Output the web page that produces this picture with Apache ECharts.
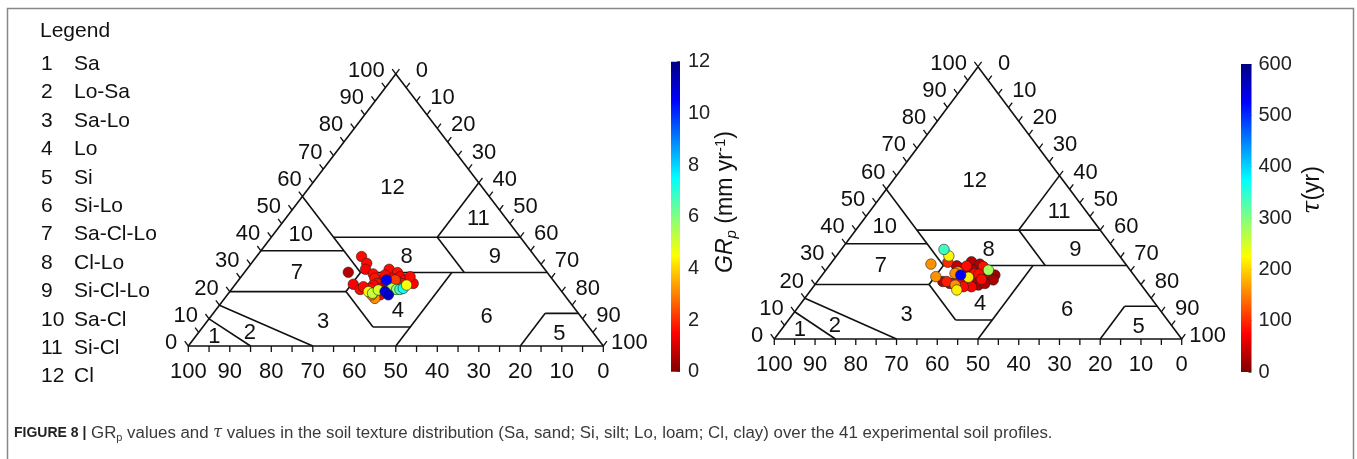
<!DOCTYPE html>
<html>
<head>
<meta charset="utf-8">
<script src="https://cdn.jsdelivr.net/npm/echarts@6/dist/echarts.min.js"></script>
<style>
  html, body { margin: 0; padding: 0; background: #fff; }
  #chart { width: 1357px; height: 459px; }
</style>
</head>
<body>
<div id="chart"></div>
<script>
// texture classes (legend)
const classNo = [1, 2, 3, 4, 5, 6, 7, 8, 9, 10, 11, 12];
const classNames = ['Sa', 'Lo-Sa', 'Sa-Lo', 'Lo', 'Si', 'Si-Lo', 'Sa-Cl-Lo', 'Cl-Lo', 'Si-Cl-Lo', 'Sa-Cl', 'Si-Cl', 'Cl'];

// class boundaries, [sand1, clay1, sand2, clay2] in %
const outline = [[100, 0, 0, 0], [0, 0, 0, 100], [0, 100, 100, 0]];
const boundaries = [
  [90, 10, 85, 0], [85, 15, 70, 0], [80, 20, 52, 20], [52, 20, 52, 7], [52, 7, 43, 7],
  [50, 0, 23, 27], [52, 20, 45, 27], [45, 27, 0, 27], [65, 35, 45, 35], [45, 55, 45, 27],
  [45, 40, 0, 40], [20, 40, 20, 27], [20, 40, 0, 60], [20, 0, 8, 12], [8, 12, 0, 12]
];
// where each class number sits, [sand, clay]
const classLabelAt = [
  [92, 3.4], [82.8, 4.7], [63, 9], [43, 13], [8.4, 4.4], [22.7, 10.8],
  [60.5, 26.7], [31, 32.8], [9.8, 32.6], [52.4, 41], [6.8, 46.6], [21.8, 58]
];

// tick labels
const sandTicks = [100, 90, 80, 70, 60, 50, 40, 30, 20, 10, 0];
const clayTicks = [0, 10, 20, 30, 40, 50, 60, 70, 80, 90, 100];
const siltTicks = [0, 10, 20, 30, 40, 50, 60, 70, 80, 90, 100];
const grpTicks = [0, 2, 4, 6, 8, 10, 12];
const tauTicks = [0, 100, 200, 300, 400, 500, 600];

// left panel: sand %, clay %, GRp (mm/yr)
const grpSand = [41.8, 41.8, 43.2, 47.9, 48.9, 48.2, 42.2, 37.5, 36.1, 36.2, 35.6, 34.3, 33.8, 41.3,
  42.6, 38.6, 37.1, 39.6, 43.0, 44.2, 45.6, 42.1, 44.4, 46.9, 41.4, 41.0, 38.5, 38.0, 46.3, 46.4,
  46.6, 45.9, 43.9, 40.4, 39.4, 38.6, 37.6, 36.2, 40.1, 42.6, 42.4];
const grpClay = [32.9, 30.4, 28.2, 27.1, 22.7, 20.8, 26.5, 28.2, 27.0, 25.5, 24.3, 23.0, 25.5, 24.3,
  24.9, 24.9, 23.0, 26.1, 23.0, 22.4, 21.2, 21.8, 18.8, 21.8, 20.0, 22.4, 23.0, 24.3, 17.5, 18.8,
  20.0, 19.4, 20.6, 21.2, 20.8, 20.8, 21.2, 22.4, 24.3, 20.0, 18.8];
const grpValue = [1.6, 1.6, 1.5, 0.6, 1.5, 1.6, 1.6, 1.6, 1.7, 1.5, 1.6, 1.5, 1.6, 1.6,
  1.7, 1.5, 1.6, 1.6, 1.6, 1.5, 1.6, 1.5, 1.6, 1.6, 0.7, 0.6, 2.4, 2.2, 3.2, 3.0,
  4.4, 5.2, 5.0, 5.3, 5.9, 6.8, 7.3, 4.6, 10.6, 10.8, 11.2];

// right panel: sand %, clay %, tau (yr)
const tauSand = [41.8, 37.4, 35.8, 34.1, 36.3, 38.7, 40.4, 43.5, 42.5, 40.2, 46.7, 35.9, 41.3, 40.0,
  35.4, 38.1, 39.4, 48.1, 41.8, 43.3, 45.9, 47.1, 35.4, 38.7, 43.0, 39.4, 42.0, 43.9, 44.0,
  37.9, 38.2, 47.8, 48.9, 42.6, 45.7, 43.6, 41.0, 46.2, 41.9, 34.8, 41.9, 42.5];
const tauClay = [26.8, 28.4, 27.5, 23.5, 22.3, 25.3, 24.7, 21.1, 19.8, 21.1, 20.4, 23.9, 26.0, 19.8,
  21.7, 20.4, 22.7, 21.1, 26.8, 28.2, 20.4, 21.1, 26.6, 24.1, 20.4, 26.8, 19.2, 21.9, 19.2,
  23.8, 21.9, 27.5, 22.9, 24.7, 19.8, 24.1, 22.7, 18.0, 30.5, 25.3, 32.9, 23.5];
const tauValue = [40, 30, 30, 20, 25, 30, 30, 30, 30, 30, 35, 30, 30, 30,
  25, 30, 30, 30, 40, 100, 90, 90, 85, 80, 70, 80, 75, 80, 80,
  80, 80, 160, 160, 160, 160, 160, 215, 215, 220, 280, 340, 530];

const jet = ['#800000', '#ff0000', '#ff8000', '#ffff00', '#80ff80', '#00ffff', '#0080ff', '#0000ff', '#000080'];
const FONT = 'Liberation Sans, Arial, sans-serif';

// sand/clay -> x/y of the cartesian grid (x: 0 at sand corner, y: clay)
function tern(sand, clay) {
  return [100 - sand - clay / 2, clay];
}

const segData = outline.concat(boundaries).map(function (s) {
  return tern(s[0], s[1]).concat(tern(s[2], s[3]));
});

// ticks every 5 %, labelled every 10 %: [x, y, side, label, major]
const tickData = [];
for (let v = 0; v <= 100; v += 5) {
  const major = v % 10 === 0 ? 1 : 0;
  tickData.push(tern(v, 0).concat([0, major ? sandTicks[10 - v / 10] : -1, major]));
  tickData.push(tern(100 - v, v).concat([1, major ? clayTicks[v / 10] : -1, major]));
  tickData.push(tern(0, 100 - v).concat([2, major ? siltTicks[v / 10] : -1, major]));
}

const classData = classLabelAt.map(function (p, i) {
  return tern(p[0], p[1]).concat([classNo[i]]);
});

function segItem(params, api) {
  const a = api.coord([api.value(0), api.value(1)]);
  const b = api.coord([api.value(2), api.value(3)]);
  return {
    type: 'line',
    shape: { x1: a[0], y1: a[1], x2: b[0], y2: b[1] },
    style: { stroke: '#111', lineWidth: 1.6 }
  };
}

function tickItem(params, api) {
  const p = api.coord([api.value(0), api.value(1)]);
  const side = api.value(2);
  const label = api.value(3);
  let d, lx, ly, align;
  if (side === 0) {
    d = [0, 6]; lx = p[0]; ly = p[1] + 26; align = 'center';
  } else if (side === 1) {
    d = [-3.6, -4.8]; lx = p[0] - 11; ly = p[1] - 3; align = 'right';
  } else {
    d = [3.6, -4.8]; lx = p[0] + 26; ly = p[1] - 3; align = 'center';
  }
  const children = [{
    type: 'line',
    shape: { x1: p[0], y1: p[1], x2: p[0] + d[0], y2: p[1] + d[1] },
    style: { stroke: '#111', lineWidth: 1.3 }
  }];
  if (api.value(4) === 1) {
    children.push({
      type: 'text',
      style: { text: String(label), x: lx, y: ly, align: align, verticalAlign: 'middle',
        fill: '#111', fontSize: 22, fontFamily: FONT }
    });
  }
  return { type: 'group', children: children };
}

function classItem(params, api) {
  const p = api.coord([api.value(0), api.value(1)]);
  return {
    type: 'text',
    style: { text: String(api.value(2)), x: p[0], y: p[1], align: 'center', verticalAlign: 'middle',
      fill: '#111', fontSize: 22, fontFamily: FONT }
  };
}

function triangleSeries(idx) {
  return [
    { type: 'custom', xAxisIndex: idx, yAxisIndex: idx, renderItem: segItem, data: segData,
      encode: { x: [0, 2], y: [1, 3] }, silent: true, z: 2 },
    { type: 'custom', xAxisIndex: idx, yAxisIndex: idx, renderItem: tickItem, data: tickData,
      encode: { x: 0, y: 1 }, silent: true, clip: false, z: 2 },
    { type: 'custom', xAxisIndex: idx, yAxisIndex: idx, renderItem: classItem, data: classData,
      encode: { x: 0, y: 1 }, silent: true, z: 2 }
  ];
}

function points(sand, clay, val) {
  return sand.map(function (s, i) { return tern(s, clay[i]).concat([val[i]]); });
}

function gradient() {
  return {
    type: 'linear', x: 0, y: 1, x2: 0, y2: 0,
    colorStops: jet.map(function (c, i) { return { offset: i / (jet.length - 1), color: c }; })
  };
}

const hidden = { type: 'value', min: 0, max: 100, show: false };

const legendGraphics = [{
  type: 'text', left: 40, top: 21,
  style: { text: 'Legend', fontSize: 21, fontFamily: FONT, fill: '#111' }
}];
classNo.forEach(function (n, i) {
  legendGraphics.push({
    type: 'text', x: 41, y: 64.3 + i * 28.4,
    style: { text: String(n), fontSize: 21, fontFamily: FONT, fill: '#111', verticalAlign: 'middle' }
  });
  legendGraphics.push({
    type: 'text', x: 74, y: 64.3 + i * 28.4,
    style: { text: classNames[i], fontSize: 21, fontFamily: FONT, fill: '#111', verticalAlign: 'middle' }
  });
});

const chart = echarts.init(document.getElementById('chart'));
chart.setOption({
  animation: false,
  backgroundColor: '#fff',
  grid: [
    { left: 188.3, top: 74, width: 415, height: 272 },
    { left: 774.3, top: 66.7, width: 407.4, height: 272.3 },
    { left: 671, top: 61.7, width: 9, height: 310 },
    { left: 1241, top: 64, width: 10.5, height: 308 }
  ],
  xAxis: [
    Object.assign({ gridIndex: 0 }, hidden),
    Object.assign({ gridIndex: 1 }, hidden),
    { gridIndex: 2, type: 'category', data: [''], show: false },
    { gridIndex: 3, type: 'category', data: [''], show: false }
  ],
  yAxis: [
    Object.assign({ gridIndex: 0 }, hidden),
    Object.assign({ gridIndex: 1 }, hidden),
    { gridIndex: 2, type: 'value', position: 'right', min: grpTicks[0], max: grpTicks[grpTicks.length - 1],
      interval: grpTicks[1] - grpTicks[0],
      axisLine: { show: false }, splitLine: { show: false },
      axisTick: { show: true, inside: true, length: 3, lineStyle: { color: '#666' } },
      axisLabel: { fontSize: 20, fontFamily: FONT, color: '#222', margin: 8 } },
    { gridIndex: 3, type: 'value', position: 'right', min: tauTicks[0], max: tauTicks[tauTicks.length - 1],
      interval: tauTicks[1] - tauTicks[0],
      axisLine: { show: false }, splitLine: { show: false },
      axisTick: { show: true, inside: true, length: 3, lineStyle: { color: '#666' } },
      axisLabel: { fontSize: 20, fontFamily: FONT, color: '#222', margin: 7 } }
  ],
  visualMap: [
    { show: false, seriesIndex: 6, dimension: 2, min: 0, max: 12, inRange: { color: jet } },
    { show: false, seriesIndex: 7, dimension: 2, min: 0, max: 600, inRange: { color: jet } }
  ],
  series: triangleSeries(0).concat(triangleSeries(1)).concat([
    { type: 'scatter', xAxisIndex: 0, yAxisIndex: 0, symbolSize: 10.5, z: 5,
      itemStyle: { borderColor: '#222', borderWidth: 0.6, opacity: 1 },
      data: points(grpSand, grpClay, grpValue) },
    { type: 'scatter', xAxisIndex: 1, yAxisIndex: 1, symbolSize: 10.5, z: 5,
      itemStyle: { borderColor: '#222', borderWidth: 0.6, opacity: 1 },
      data: points(tauSand, tauClay, tauValue) },
    { type: 'bar', xAxisIndex: 2, yAxisIndex: 2, barWidth: '100%', silent: true,
      data: [grpTicks[grpTicks.length - 1]], itemStyle: { color: gradient() } },
    { type: 'bar', xAxisIndex: 3, yAxisIndex: 3, barWidth: '100%', silent: true,
      data: [tauTicks[tauTicks.length - 1]], itemStyle: { color: gradient() } }
  ]),
  graphic: legendGraphics.concat([
    { type: 'rect', shape: { x: 7.5, y: 8.5, width: 1346, height: 470 },
      style: { fill: 'none', stroke: '#888', lineWidth: 1.5 }, silent: true },
    { type: 'text', x: 726, y: 202, rotation: Math.PI / 2,
      style: {
        text: '{i|GR}{s|p}{n| (mm yr}{u|-1}{n|)}',
        align: 'center', verticalAlign: 'middle',
        rich: {
          i: { fontSize: 23, fontStyle: 'italic', fontFamily: FONT, fill: '#111', lineHeight: 26 },
          s: { fontSize: 15, fontStyle: 'italic', fontFamily: FONT, fill: '#111', lineHeight: 13, verticalAlign: 'bottom' },
          n: { fontSize: 23, fontFamily: FONT, fill: '#111', lineHeight: 26 },
          u: { fontSize: 15, fontFamily: FONT, fill: '#111', lineHeight: 13, verticalAlign: 'top' }
        }
      } },
    { type: 'text', x: 1313, y: 190, rotation: Math.PI / 2,
      style: {
        text: '{t|τ}{n|(yr)}', align: 'center', verticalAlign: 'middle',
        rich: {
          t: { fontSize: 24, fontStyle: 'italic', fontFamily: 'DejaVu Serif, serif', fill: '#111' },
          n: { fontSize: 23, fontFamily: FONT, fill: '#111' }
        }
      } },
    { type: 'text', x: 14, y: 433,
      style: {
        text: '{b|FIGURE 8 |} GR{s|p} values and {t|τ} values in the soil texture distribution (Sa, sand; Si, silt; Lo, loam; Cl, clay) over the 41 experimental soil profiles.',
        verticalAlign: 'middle', fontSize: 16.85, fontFamily: FONT, fill: '#3a3a3a',
        rich: {
          b: { fontSize: 14, fontWeight: 'bold', fontFamily: FONT, fill: '#222', lineHeight: 20 },
          s: { fontSize: 11, fontFamily: FONT, fill: '#3a3a3a', lineHeight: 11, verticalAlign: 'bottom' },
          t: { fontSize: 16, fontStyle: 'italic', fontFamily: 'DejaVu Serif, serif', fill: '#3a3a3a' }
        }
      } }
  ])
});
</script>
</body>
</html>
